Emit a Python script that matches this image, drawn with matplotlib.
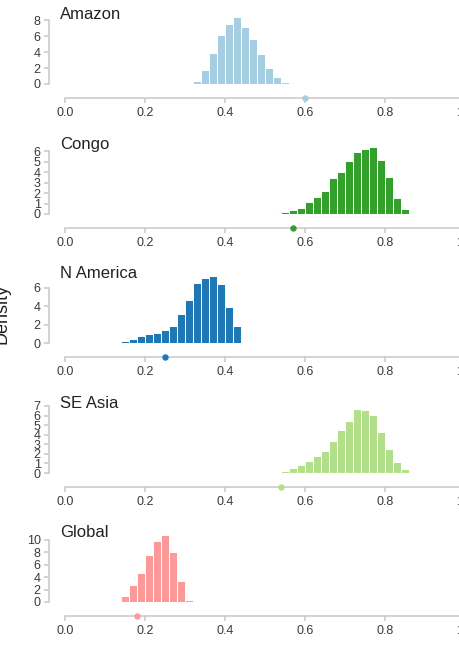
import numpy as np
import matplotlib
matplotlib.use("Agg")
from matplotlib import pyplot as plt

plt.rcParams['font.family'] = ['Liberation Sans', 'DejaVu Sans']

# bin centres (width 0.02) and densities
amazon_x = [0.33, 0.35, 0.37, 0.39, 0.41, 0.43, 0.45, 0.47, 0.49, 0.51, 0.53, 0.55, 0.57]
amazon_y = [0.4, 1.8, 3.9, 6.2, 7.5, 8.4, 7.2, 5.6, 3.8, 2.0, 0.9, 0.3, 0.04]
amazon_obs = 0.60

congo_x = [0.49, 0.51, 0.53, 0.55, 0.57, 0.59, 0.61, 0.63, 0.65, 0.67, 0.69, 0.71,
           0.73, 0.75, 0.77, 0.79, 0.81, 0.83, 0.85, 0.87, 0.89]
congo_y = [0.02, 0.03, 0.05, 0.2, 0.35, 0.6, 1.1, 1.6, 2.2, 3.4, 4.0, 5.1,
           5.9, 6.2, 6.4, 5.2, 3.5, 1.5, 0.5, 0.04, 0.02]
congo_obs = 0.57

namer_x = [0.11, 0.13, 0.15, 0.17, 0.19, 0.21, 0.23, 0.25, 0.27, 0.29, 0.31, 0.33,
           0.35, 0.37, 0.39, 0.41, 0.43, 0.45]
namer_y = [0.02, 0.05, 0.2, 0.45, 0.8, 1.0, 1.1, 1.45, 1.9, 3.2, 4.7, 6.5,
           7.1, 7.3, 6.4, 3.95, 1.8, 0.1]
namer_obs = 0.25

seasia_x = [0.53, 0.55, 0.57, 0.59, 0.61, 0.63, 0.65, 0.67, 0.69, 0.71, 0.73, 0.75,
            0.77, 0.79, 0.81, 0.83, 0.85]
seasia_y = [0.05, 0.25, 0.5, 0.8, 1.3, 1.8, 2.3, 3.3, 4.5, 5.4, 6.7, 6.6,
            6.1, 4.3, 2.5, 1.2, 0.4]
seasia_obs = 0.54

global_x = [0.15, 0.17, 0.19, 0.21, 0.23, 0.25, 0.27, 0.29, 0.31]
global_y = [0.9, 2.7, 4.7, 7.6, 9.8, 10.8, 8.0, 3.4, 0.4]
global_obs = 0.18

names = ["Amazon", "Congo", "N America", "SE Asia", "Global"]
xs = [amazon_x, congo_x, namer_x, seasia_x, global_x]
ys = [amazon_y, congo_y, namer_y, seasia_y, global_y]
obs = [amazon_obs, congo_obs, namer_obs, seasia_obs, global_obs]
yticks = [np.arange(0, 9, 2), np.arange(0, 7, 1), np.arange(0, 7, 2),
          np.arange(0, 8, 1), np.arange(0, 11, 2)]
colors = ["#a6cee3", "#33a02c", "#1f78b4", "#b2df8a", "#fb9a99"]
xticks = [0.0, 0.2, 0.4, 0.6, 0.8, 1.0]

W, H = 460., 649.
baselines = [84, 214, 343, 473, 602]
axh = 67.
grey = "#c8c8c8"

fig = plt.figure(figsize=(W/100, H/100), dpi=100, facecolor="w")

for i in range(5):
    ax = fig.add_axes([49/W, (H-baselines[i])/H, 421/W, axh/H])
    ax.bar(xs[i], ys[i], width=0.02, color=colors[i], edgecolor="white", linewidth=0.7)
    ax.set_xlim(-0.04, 1.0125)
    ax.set_ylim(0, max(ys[i]))
    for s in ["top", "right"]:
        ax.spines[s].set_visible(False)
    ax.spines["bottom"].set_position(("outward", 10))
    ax.spines["bottom"].set_bounds(0, 1)
    ax.spines["left"].set_bounds(0, yticks[i][-1])
    for s in ["bottom", "left"]:
        ax.spines[s].set_color(grey)
        ax.spines[s].set_linewidth(1.1)
    ax.set_xticks(xticks)
    ax.set_xticklabels(["%.1f" % t for t in xticks])
    ax.set_yticks(yticks[i])
    ax.tick_params(colors=grey, labelcolor="#3a3a3a", labelsize=9, length=3.5, width=1.1, pad=3)
    ax.tick_params(axis="y", pad=2.5)
    ax.plot([obs[i]], [-14/axh], "o", color=colors[i], markersize=3.6,
            transform=ax.get_xaxis_transform(), clip_on=False, zorder=5)
    ax.text(11/421, 0.97, names[i], transform=ax.transAxes, fontsize=12,
            color="#222222", ha="left", va="baseline")

fig.text(11/W, 1-314/H, "Density", rotation=90, fontsize=13, color="#222222",
         ha="right", va="center")

plt.savefig("out.png", dpi=100)
